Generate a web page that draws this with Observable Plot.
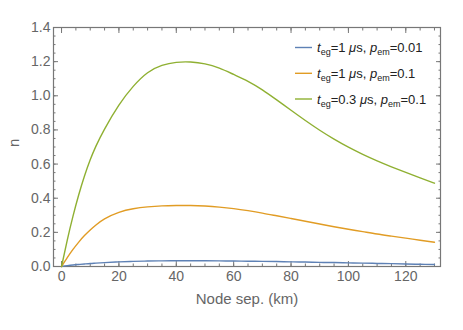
<!DOCTYPE html>
<html>
<head>
<meta charset="utf-8">
<script src="https://cdn.jsdelivr.net/npm/d3@7"></script>
<script src="https://cdn.jsdelivr.net/npm/@observablehq/plot@0.6"></script>
<style>
  html, body { margin: 0; padding: 0; background: #fff; }
  #chart svg { display: block; }
</style>
</head>
<body>
<div id="chart"></div>
<script>
// Node separation (km)
const sepKm = [0, 2, 4, 6, 8, 10, 12, 15, 20, 25, 30, 35, 40, 45, 50, 55, 60, 65, 70, 75, 80, 85, 90, 95, 100, 105, 110, 115, 120, 125, 130];
// n for teg=1 µs, pem=0.01
const nBlue   = [0, 0.005, 0.009, 0.012, 0.015, 0.018, 0.020, 0.023, 0.027, 0.030, 0.032, 0.033, 0.034, 0.034, 0.034, 0.033, 0.032, 0.031, 0.030, 0.029, 0.027, 0.026, 0.024, 0.023, 0.021, 0.020, 0.018, 0.017, 0.015, 0.013, 0.012];
// n for teg=1 µs, pem=0.1
const nOrange = [0, 0.052, 0.100, 0.143, 0.181, 0.214, 0.243, 0.279, 0.317, 0.338, 0.349, 0.355, 0.357, 0.357, 0.354, 0.348, 0.339, 0.327, 0.313, 0.297, 0.281, 0.265, 0.249, 0.233, 0.218, 0.204, 0.190, 0.178, 0.166, 0.154, 0.142];
// n for teg=0.3 µs, pem=0.1
const nGreen  = [0, 0.155, 0.295, 0.420, 0.530, 0.625, 0.705, 0.805, 0.945, 1.055, 1.135, 1.178, 1.196, 1.198, 1.187, 1.162, 1.125, 1.085, 1.035, 0.976, 0.915, 0.855, 0.798, 0.746, 0.699, 0.657, 0.619, 0.584, 0.551, 0.519, 0.488];

const seriesNames = ["s1", "s2", "s3"];
const seriesColors = ["#5E81B5", "#E19C24", "#8FB032"];
const seriesValues = [nBlue, nOrange, nGreen];

const xMajor = [0, 20, 40, 60, 80, 100, 120];
const xMinor = d3.range(0, 131, 5);
const yMajor = [0, 0.2, 0.4, 0.6, 0.8, 1.0, 1.2, 1.4];
const yMinor = d3.range(0, 1.401, 0.05);

const data = [];
seriesValues.forEach((vals, i) => {
  vals.forEach((v, j) => data.push({series: seriesNames[i], km: sepKm[j], n: v}));
});

const textColor = "#666";
const frameColor = "#777";

const plot = Plot.plot({
  width: 463,
  height: 330,
  marginLeft: 53,
  marginRight: 23,
  marginTop: 27,
  marginBottom: 64,
  style: {fontFamily: "'Liberation Sans', Arial, sans-serif", fontSize: "14px", color: textColor, background: "#fff"},
  x: {domain: [-2.8, 132.1]},
  y: {domain: [0, 1.4]},
  color: {domain: seriesNames, range: seriesColors},
  marks: [
    // minor ticks
    Plot.axisX({anchor: "bottom", ticks: xMinor, tickSize: -2.5, tickFormat: () => "", label: null, stroke: frameColor}),
    Plot.axisX({anchor: "top", ticks: xMinor, tickSize: -2.5, tickFormat: () => "", label: null, stroke: frameColor}),
    Plot.axisY({anchor: "left", ticks: yMinor, tickSize: -2.5, tickFormat: () => "", label: null, stroke: frameColor}),
    Plot.axisY({anchor: "right", ticks: yMinor, tickSize: -2.5, tickFormat: () => "", label: null, stroke: frameColor}),
    // major ticks
    Plot.axisX({anchor: "bottom", ticks: xMajor, tickSize: -5, tickFormat: () => "", label: null, stroke: frameColor}),
    Plot.axisX({anchor: "top", ticks: xMajor, tickSize: -5, tickFormat: () => "", label: null, stroke: frameColor}),
    Plot.axisY({anchor: "left", ticks: yMajor, tickSize: -5, tickFormat: () => "", label: null, stroke: frameColor}),
    Plot.axisY({anchor: "right", ticks: yMajor, tickSize: -5, tickFormat: () => "", label: null, stroke: frameColor}),
    // labels
    Plot.axisX({anchor: "bottom", ticks: xMajor, tickSize: 0, tickPadding: 5, tickFormat: d3.format("d"), label: null, fill: textColor, fontSize: 14}),
    Plot.axisY({anchor: "left", ticks: yMajor, tickSize: 0, tickPadding: 3, tickFormat: d3.format(".1f"), label: null, fill: textColor, fontSize: 14}),
    Plot.text(["Node sep. (km)"], {frameAnchor: "bottom", dy: 37, fill: textColor, fontSize: 15}),
    Plot.text(["n"], {frameAnchor: "left", dx: -39, rotate: -90, fill: textColor, fontSize: 15}),
    Plot.frame({stroke: frameColor, strokeWidth: 1.2}),
    Plot.line(data, {x: "km", y: "n", z: "series", stroke: "series", strokeWidth: 1.4, curve: "natural"})
  ]
});

document.getElementById("chart").appendChild(plot);

// Legend (inside the plot, top right)
const svg = d3.select(plot);
const legendLabels = [
  {t: "1", p: "0.01"},
  {t: "1", p: "0.1"},
  {t: "0.3", p: "0.1"}
];
const leg = svg.append("g")
  .attr("font-family", "'Liberation Sans', Arial, sans-serif")
  .attr("font-size", 13)
  .attr("text-anchor", "start")
  .attr("fill", "#222");
const legY = [47.5, 73.3, 99];
legendLabels.forEach((d, i) => {
  const y = legY[i];
  leg.append("line").attr("x1", 295).attr("x2", 312).attr("y1", y).attr("y2", y)
    .attr("stroke", seriesColors[i]).attr("stroke-width", 1.4);
  const t = leg.append("text").attr("x", 317).attr("y", y + 4.5).attr("text-anchor", "start");
  t.append("tspan").attr("font-style", "italic").text("t");
  t.append("tspan").attr("font-size", 9).attr("dy", 3).text("eg");
  t.append("tspan").attr("dy", -3).text("=" + d.t + " ");
  t.append("tspan").attr("font-style", "italic").text("μ");
  t.append("tspan").text("s, ");
  t.append("tspan").attr("font-style", "italic").text("p");
  t.append("tspan").attr("font-size", 9).attr("dy", 3).text("em");
  t.append("tspan").attr("dy", -3).text("=" + d.p);
});
</script>
</body>
</html>
